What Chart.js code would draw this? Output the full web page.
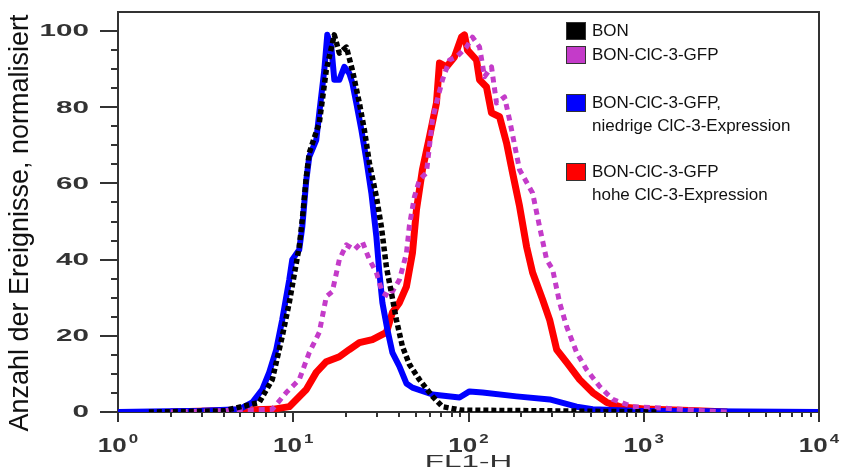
<!DOCTYPE html>
<html>
<head>
<meta charset="utf-8">
<script src="https://cdn.jsdelivr.net/npm/chart.js"></script>
<style>
  html, body { margin: 0; padding: 0; background: #fff; overflow: hidden; }
  #wrap { position: relative; width: 843px; height: 474px; }
  #chart { display: block; }
  #legend { position: absolute; left: 566px; top: 0; font-family: "Liberation Sans", Arial, sans-serif; font-size: 17px; color: #111; }
  .item { position: absolute; left: 0; white-space: nowrap; }
  .swatch { position: absolute; left: 0; width: 18px; height: 16px; border: 1px solid #333; box-sizing: content-box; }
  .label { position: absolute; left: 26px; line-height: 23px; }
</style>
</head>
<body>
<div id="wrap">
  <canvas id="chart" width="843" height="474"></canvas>
  <div id="legend"></div>
</div>
<script>
// FL1-H (log) vs. normalised event count
const bon = [
  [1.5, 0], [4, 0.3], [6.39, 2.5], [7.59, 8.5], [8.65, 19.8], [9.49, 28.7],
  [10.82, 43.4], [11.26, 50.5], [11.87, 61.7], [12.34, 68.0], [14.08, 75.9], [15.44, 89.8],
  [17.15, 99.0], [18.32, 94.2], [20.09, 95.8], [21.73, 89.8], [23.84, 81.1], [25.45, 74.1],
  [27.19, 65.4], [29.81, 56.5], [31.84, 48.6], [34.0, 38.1], [36.31, 31.3], [38.78, 24.2],
  [41.97, 17.2], [46.02, 12.5], [52.48, 8.5], [62.28, 4.1], [71.04, 1.4], [90, 0.5],
  [300, 0.3], [1200, 0]
];
const bonGfp = [
  [2, 0], [7.59, 0.7], [9.12, 5.1], [10.82, 8.5], [12.34, 15.6], [14.08, 20.9],
  [15.44, 30.3], [16.71, 31.6], [18.32, 40.0], [20.09, 43.9], [22.32, 42.6], [24.8, 44.7],
  [27.19, 40.0], [29.81, 36.6], [32.26, 31.3], [35.37, 30.3], [40.34, 34.7], [44.23, 41.6],
  [46.02, 49.0], [49.14, 56.5], [52.48, 60.9], [57.54, 62.8], [62.28, 76.7], [65.64, 81.1],
  [71.04, 87.2], [77.89, 92.4], [85.39, 93.2], [97.4, 95.8], [105.4, 98.4], [115.6, 95.8],
  [123.4, 88.0], [135.3, 90.6], [144.5, 81.1], [160.6, 82.7], [171.5, 76.7], [195.6, 63.6],
  [232.1, 57.5], [254.5, 48.6], [279.1, 40.0], [302.0, 37.4], [331.1, 28.7], [363.1, 22.4],
  [414.2, 15.6], [472.4, 11.1], [560.6, 6.7], [665.2, 3.3], [865, 1.4], [1300, 1.0],
  [2000, 0.4], [3000, 0]
];
const bonLow = [
  [1, 0], [3, 0.3], [4.91, 0.7], [5.83, 2.5], [6.65, 5.9], [7.29, 10.4],
  [8.0, 16.4], [8.65, 24.2], [9.49, 34.7], [9.87, 40.0], [10.82, 42.6], [11.26, 48.6],
  [11.87, 60.9], [12.34, 67.0], [13.53, 71.4], [14.08, 78.5], [15.04, 89.8], [15.64, 99.0],
  [16.49, 95.8], [17.15, 87.2], [18.32, 87.2], [19.56, 90.6], [20.89, 88.9], [21.73, 86.4],
  [22.91, 81.1], [24.47, 74.1], [26.13, 66.2], [27.91, 57.5], [29.81, 46.0], [31.0, 36.6],
  [32.26, 28.7], [34.45, 21.6], [36.79, 15.6], [40.34, 12.0], [44.23, 7.5], [47.86, 6.4],
  [62.28, 4.6], [88.83, 3.8], [101.3, 5.4], [120.2, 5.1], [188.1, 4.1], [290.4, 3.3],
  [414.2, 1.4], [511.1, 0.7], [865, 0.3], [10000, 0]
];
const bonHigh = [
  [2, 0], [7.59, 0.7], [9.49, 1.4], [11.87, 5.9], [13.53, 10.4], [15.44, 13.2],
  [18.32, 14.5], [20.89, 16.4], [23.84, 18.2], [28.28, 19.0], [34.0, 20.9], [36.79, 26.1],
  [40.34, 28.7], [44.23, 32.9], [47.86, 41.7], [50.45, 53.0], [54.59, 63.6], [59.86, 72.2],
  [65.64, 81.1], [68.3, 91.6], [74.88, 90.6], [83.18, 93.2], [91.2, 98.4], [94.87, 99.0],
  [98.7, 95.0], [111.1, 92.4], [115.6, 87.2], [126.7, 85.3], [135.3, 78.5], [150.4, 77.5],
  [164.9, 70.6], [178.4, 62.8], [195.6, 54.0], [214.5, 43.4], [232.1, 36.6], [264.8, 29.5],
  [290.4, 24.2], [318.4, 16.4], [363.1, 13.0], [430.9, 8.5], [511.1, 5.1], [614.7, 2.5],
  [729.4, 1.4], [1000, 0.8], [2000, 0.3], [3000, 0]
];

const seriesNames = [
  ['BON'],
  ['BON-ClC-3-GFP'],
  ['BON-ClC-3-GFP,', 'niedrige ClC-3-Expression'],
  ['BON-ClC-3-GFP', 'hohe ClC-3-Expression']
];
const yTicks = [0, 20, 40, 60, 80, 100];
const yMinorStep = 5;
const xTickExponents = [0, 1, 2, 3, 4];
const xTitle = 'FL1-H';
const yTitle = 'Anzahl der Ereignisse, normalisiert';

const colors = ['#000000', '#c43bc9', '#0000ff', '#ff0000'];
const legendTops = [22, 46, 94, 163];

// legend (html)
const legend = document.getElementById('legend');
seriesNames.forEach((lines, i) => {
  const item = document.createElement('div');
  item.className = 'item';
  item.style.top = legendTops[i] + 'px';
  const sw = document.createElement('div');
  sw.className = 'swatch';
  sw.style.background = colors[i];
  item.appendChild(sw);
  const lab = document.createElement('div');
  lab.className = 'label';
  lab.style.top = '-3px';
  lab.innerHTML = lines.join('<br>');
  item.appendChild(lab);
  legend.appendChild(item);
});

const toPts = (arr) => arr.map(([x, y]) => ({ x, y }));

function wideText(ctx, text, x, y, sx, align) {
  ctx.save();
  ctx.translate(x, y);
  ctx.scale(sx, 1);
  ctx.textAlign = align;
  ctx.fillText(text, 0, 0);
  ctx.restore();
}

const axisDecor = {
  id: 'axisDecor',
  afterDraw(chart) {
    const { ctx, chartArea: a, scales: { x, y } } = chart;
    ctx.save();
    ctx.strokeStyle = '#333';
    ctx.lineWidth = 2;
    // frame top + right
    ctx.beginPath();
    ctx.moveTo(a.left, a.top);
    ctx.lineTo(a.right, a.top);
    ctx.lineTo(a.right, a.bottom);
    ctx.stroke();

    // y ticks
    ctx.beginPath();
    for (let v = 0; v <= yTicks[yTicks.length - 1]; v += yMinorStep) {
      const py = Math.round(y.getPixelForValue(v));
      const len = yTicks.includes(v) ? 18 : 7;
      ctx.moveTo(a.left - len, py);
      ctx.lineTo(a.left, py);
    }
    // x ticks (decades + 2..9)
    xTickExponents.forEach((e, i) => {
      const base = Math.pow(10, e);
      const steps = i < xTickExponents.length - 1 ? 9 : 1;
      for (let m = 1; m <= steps; m++) {
        const px = Math.round(x.getPixelForValue(m * base));
        const len = m === 1 ? 10 : 5;
        ctx.moveTo(px, a.bottom);
        ctx.lineTo(px, a.bottom + len);
      }
    });
    ctx.stroke();

    // y tick labels
    ctx.fillStyle = '#333';
    ctx.font = 'bold 16px "Liberation Sans", Arial, sans-serif';
    ctx.textBaseline = 'middle';
    yTicks.forEach((v) => {
      wideText(ctx, String(v), 89, y.getPixelForValue(v) + 1, 1.85, 'right');
    });

    // x tick labels 10^n
    ctx.textBaseline = 'alphabetic';
    const sx = 1.3;
    xTickExponents.forEach((e) => {
      const px = x.getPixelForValue(Math.pow(10, e));
      ctx.font = 'bold 20px "Liberation Sans", Arial, sans-serif';
      const w1 = ctx.measureText('10').width * sx;
      ctx.font = 'bold 13px "Liberation Sans", Arial, sans-serif';
      const w2 = ctx.measureText(String(e)).width * sx;
      const start = px - (w1 + w2 + 2) / 2;
      ctx.font = 'bold 20px "Liberation Sans", Arial, sans-serif';
      wideText(ctx, '10', start, 452, sx, 'left');
      ctx.font = 'bold 13px "Liberation Sans", Arial, sans-serif';
      wideText(ctx, String(e), start + w1 + 2, 443, sx, 'left');
    });

    // x title
    ctx.font = '17px "Liberation Sans", Arial, sans-serif';
    wideText(ctx, xTitle, (a.left + a.right) / 2, 467, 1.85, 'center');

    // y title
    ctx.fillStyle = '#111';
    ctx.font = '27px "Liberation Sans", Arial, sans-serif';
    ctx.translate(21, 223);
    ctx.rotate(-Math.PI / 2);
    ctx.textAlign = 'center';
    ctx.textBaseline = 'middle';
    ctx.fillText(yTitle, 0, 0);
    ctx.restore();
  }
};

new Chart(document.getElementById('chart').getContext('2d'), {
  type: 'line',
  data: {
    datasets: [
      { label: seriesNames[0].join(' '), data: toPts(bon), borderColor: colors[0], borderWidth: 5.5, borderDash: [5, 3] },
      { label: seriesNames[1].join(' '), data: toPts(bonGfp), borderColor: colors[1], borderWidth: 5, borderDash: [6, 5] },
      { label: seriesNames[2].join(' '), data: toPts(bonLow), borderColor: colors[2], borderWidth: 6 },
      { label: seriesNames[3].join(' '), data: toPts(bonHigh), borderColor: colors[3], borderWidth: 7 }
    ]
  },
  options: {
    responsive: false,
    animation: false,
    devicePixelRatio: 1,
    layout: { padding: { top: 12, right: 24, left: 0, bottom: 0 } },
    elements: {
      point: { radius: 0 },
      line: { tension: 0, fill: false, borderCapStyle: 'butt', borderJoinStyle: 'round' }
    },
    plugins: { legend: { display: false }, tooltip: { enabled: false } },
    scales: {
      x: {
        type: 'logarithmic',
        min: 1,
        max: 10000,
        grid: { display: false },
        ticks: { display: false },
        border: { display: true, color: '#333', width: 2 },
        afterFit: (s) => { s.height = 62; }
      },
      y: {
        min: 0,
        max: 105,
        grid: { display: false },
        ticks: { display: false },
        border: { display: true, color: '#333', width: 2 },
        afterFit: (s) => { s.width = 118; }
      }
    }
  },
  plugins: [axisDecor]
});
</script>
</body>
</html>
